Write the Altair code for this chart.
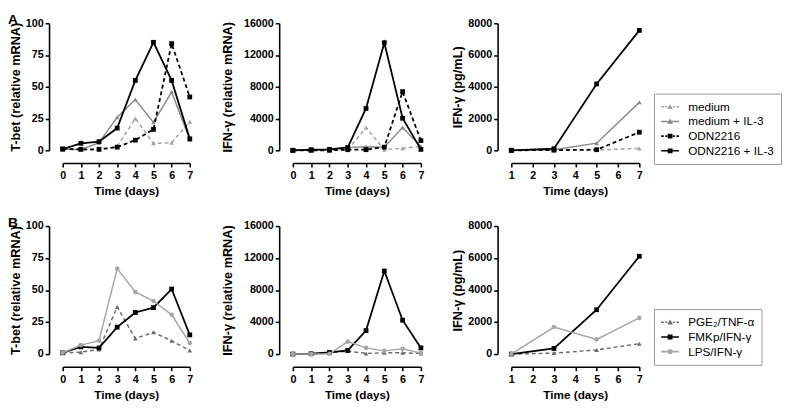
import math
import altair as alt
import pandas as pd

# ---------------- data ----------------
days_mrna = [0, 1, 2, 3, 4, 5, 6, 7]
days_elisa = [1, 3, 5, 7]

series_a = ["medium", "medium + IL-3", "ODN2216", "ODN2216 + IL-3"]
series_b = ["PGE₂/TNF-α", "FMKp/IFN-γ", "LPS/IFN-γ"]

# Panel A - T-bet (relative mRNA)
a_tbet_medium = [1, 0.5, 0.5, 3, 25, 5.5, 6, 22.5]
a_tbet_medium_il3 = [1, 0.5, 6, 26, 40, 22, 46, 8.5]
a_tbet_odn = [1, 0.8, 0.8, 2.5, 8, 16.5, 84, 42]
a_tbet_odn_il3 = [1, 5.5, 6.8, 17.5, 55, 85, 55, 9]

# Panel A - IFN-gamma (relative mRNA)
a_ifn_medium = [0, 0, 0, 80, 2860, 80, 250, 490]
a_ifn_medium_il3 = [0, 0, 50, 370, 450, 400, 2860, 490]
a_ifn_odn = [0, 0, 0, 80, 80, 400, 7390, 1220]
a_ifn_odn_il3 = [0, 80, 120, 370, 5270, 13550, 4040, 120]

# Panel A - IFN-gamma (pg/mL)
a_pg_medium = [0, 10, 20, 120]
a_pg_medium_il3 = [0, 40, 450, 3020]
a_pg_odn = [0, 10, 40, 1140]
a_pg_odn_il3 = [0, 100, 4180, 7550]

# Panel B - T-bet (relative mRNA)
b_tbet_pge2 = [1, 1.5, 3.6, 36.8, 12.2, 17, 10.4, 2.8]
b_tbet_fmkp = [1, 5.6, 4.8, 21, 32.5, 36.3, 50.8, 15]
b_tbet_lps = [1, 7, 10.4, 66.8, 48.5, 41.4, 30.7, 8.6]

# Panel B - IFN-gamma (relative mRNA)
b_ifn_pge2 = [0, 0, 160, 370, 80, 160, 160, 80]
b_ifn_fmkp = [0, 40, 200, 450, 2930, 10380, 4230, 770]
b_ifn_lps = [0, 0, 40, 1550, 770, 400, 650, 120]

# Panel B - IFN-gamma (pg/mL)
b_pg_pge2 = [0, 60, 260, 650]
b_pg_fmkp = [0, 350, 2770, 6110]
b_pg_lps = [0, 1690, 920, 2260]

tbet_ticks = [0, 25, 50, 75, 100]
ifn_mrna_ticks = [0, 4000, 8000, 12000, 16000]
ifn_pg_ticks = [0, 2000, 4000, 6000, 8000]

# ---------------- styles ----------------
style = {
    "medium": dict(color="#a3a3a3", dash=[4, 3], shape="triangle-up", marker="triangle", width=1.5, size=22),
    "medium + IL-3": dict(color="#8a8a8a", dash=None, shape="triangle-up", marker="triangle", width=1.5, size=22),
    "ODN2216": dict(color="#000000", dash=[4, 3], shape="square", marker="square", width=1.8, size=24),
    "ODN2216 + IL-3": dict(color="#000000", dash=None, shape="square", marker="square", width=1.8, size=24),
    "PGE₂/TNF-α": dict(color="#6b6b6b", dash=[4, 3], shape="triangle-up", marker="triangle", width=1.5, size=22),
    "FMKp/IFN-γ": dict(color="#000000", dash=None, shape="square", marker="square", width=1.8, size=24),
    "LPS/IFN-γ": dict(color="#a6a6a6", dash=None, shape="circle", marker="circle", width=1.5, size=22),
}

FONT = "Liberation Sans"


def legend_symbol(dashed, marker):
    t = 0.12

    def rect(x0, x1):
        return f"M{x0},{-t}H{x1}V{t}H{x0}Z"

    if dashed:
        segs = [(-1.4, -1.0), (-0.75, -0.45), (0.45, 0.75), (1.0, 1.4)]
    else:
        segs = [(-1.4, 1.4)]
    parts = [rect(a, b) for a, b in segs]
    if marker == "square":
        parts.append("M-0.38,-0.38H0.38V0.38H-0.38Z")
    elif marker == "triangle":
        parts.append("M0,-0.45L0.45,0.35L-0.45,0.35Z")
    else:
        pts = []
        for k in range(16):
            ang = 2 * math.pi * k / 16
            pts.append(f"{0.4 * math.cos(ang):.3f},{0.4 * math.sin(ang):.3f}")
        parts.append("M" + "L".join(pts) + "Z")
    return "".join(parts)


def panel(days, values, order, ytitle, ymax, yticks, xdomain, xticks,
          width, height, legend_xy=None, label=None, ytitle_pad=3):
    x = alt.X("day:Q", scale=alt.Scale(domain=xdomain, nice=False, zero=False),
              axis=alt.Axis(values=xticks, title="Time (days)", offset=13, format="d",
                            labelFlush=False, labelOverlap=False))
    y = alt.Y("value:Q", scale=alt.Scale(domain=[0, ymax], nice=False),
              axis=alt.Axis(values=yticks, title=ytitle, offset=14, format="d",
                            labelOverlap=False, titlePadding=ytitle_pad))
    layers = []
    frames = []
    for s in order:
        df = pd.DataFrame({"day": days, "value": values[s], "series": s})
        frames.append(df)
        st = style[s]
        kw = dict(color=st["color"], strokeWidth=st["width"])
        if st["dash"]:
            kw["strokeDash"] = st["dash"]
        layers.append(alt.Chart(df).mark_line(**kw).encode(x=x, y=y))
        layers.append(alt.Chart(df).mark_point(filled=True, shape=st["shape"], size=st["size"],
                                               color=st["color"], opacity=1).encode(x=x, y=y))
    if legend_xy is not None:
        alldf = pd.concat(frames, ignore_index=True)
        leg = alt.Legend(title=None, orient="none", legendX=legend_xy[0], legendY=legend_xy[1],
                         padding=7, strokeColor="#9a9a9a", fillColor="white",
                         symbolSize=169, symbolStrokeWidth=0, symbolOpacity=1,
                         symbolOffset=3, labelOffset=12, rowPadding=2,
                         labelFont=FONT, labelFontSize=12, labelColor="black")
        layers.append(
            alt.Chart(alldf).mark_point(filled=True, opacity=0).encode(
                x=x, y=y,
                color=alt.Color("series:N", scale=alt.Scale(domain=order, range=[style[s]["color"] for s in order]), legend=leg),
                shape=alt.Shape("series:N", scale=alt.Scale(domain=order, range=[legend_symbol(style[s]["dash"] is not None, style[s]["marker"]) for s in order]), legend=leg),
            )
        )
    ch = alt.layer(*layers).properties(width=width, height=height)
    if label:
        ch = ch.properties(title=alt.TitleParams(label, anchor="start", frame="group", dx=-56, dy=13.5,
                                                 font=FONT, fontSize=14, fontWeight="bold", color="black"))
    return ch


A_tbet = dict(zip(series_a, [a_tbet_medium, a_tbet_medium_il3, a_tbet_odn, a_tbet_odn_il3]))
A_ifn = dict(zip(series_a, [a_ifn_medium, a_ifn_medium_il3, a_ifn_odn, a_ifn_odn_il3]))
A_pg = dict(zip(series_a, [a_pg_medium, a_pg_medium_il3, a_pg_odn, a_pg_odn_il3]))
B_tbet = dict(zip(series_b, [b_tbet_pge2, b_tbet_fmkp, b_tbet_lps]))
B_ifn = dict(zip(series_b, [b_ifn_pge2, b_ifn_fmkp, b_ifn_lps]))
B_pg = dict(zip(series_b, [b_pg_pge2, b_pg_fmkp, b_pg_lps]))

a1 = panel(days_mrna, A_tbet, series_a, "T-bet (relative mRNA)", 100, tbet_ticks, [0, 7], days_mrna, 130, 130, label="A")
a2 = panel(days_mrna, A_ifn, series_a, "IFN-γ (relative mRNA)", 16000, ifn_mrna_ticks, [0, 7], days_mrna, 131, 130, ytitle_pad=9.5)
a3 = panel(days_elisa, A_pg, series_a, "IFN-γ (pg/mL)", 8000, ifn_pg_ticks, [1, 7], list(range(1, 8)), 131, 130, legend_xy=(146, 72))
b1 = panel(days_mrna, B_tbet, series_b, "T-bet (relative mRNA)", 100, tbet_ticks, [0, 7], days_mrna, 130, 131, label="B")
b2 = panel(days_mrna, B_ifn, series_b, "IFN-γ (relative mRNA)", 16000, ifn_mrna_ticks, [0, 7], days_mrna, 131, 131, ytitle_pad=9.5)
b3 = panel(days_elisa, B_pg, series_b, "IFN-γ (pg/mL)", 8000, ifn_pg_ticks, [1, 7], list(range(1, 8)), 131, 131, legend_xy=(146, 85))

ind = dict(color="independent", shape="independent")


def row(p1, p2, p3):
    return alt.hconcat(p1, p2, p3, spacing=27.5).resolve_scale(**ind)


chart = (
    alt.vconcat(row(a1, a2, a3), row(b1, b2, b3), spacing=19.5)
    .resolve_scale(**ind)
    .properties(padding=0, background="white")
    .configure_view(stroke=None)
    .configure_axis(domainColor="black", domainWidth=1.6, tickColor="black", tickWidth=1.6,
                    tickSize=4, labelFont=FONT, labelFontWeight="bold", labelFontSize=11,
                    labelColor="black", labelPadding=2, titleFont=FONT, titleFontWeight="bold",
                    titleFontSize=12, titleColor="black", grid=False)
    .configure_axisY(titleFontSize=13)
    .configure_axisX(titlePadding=5, labelPadding=3)
)

chart.save("out.html", embed_options={"renderer": "svg", "actions": False})
